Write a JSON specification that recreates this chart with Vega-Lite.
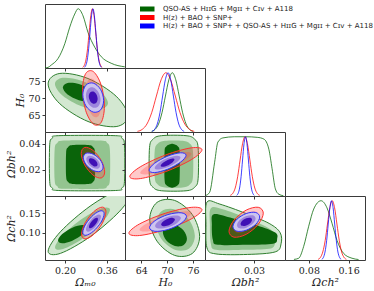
{
"$schema":"https://vega.github.io/schema/vega-lite/v6.json",
"padding":{"left":5,"top":3,"right":0,"bottom":0},
"columns":4,"spacing":0,"bounds":"flush",
"config":{
 "view":{"stroke":"#3a3a3a","strokeWidth":1},
 "axis":{"domain":false,"grid":false,"tickSize":3,"tickColor":"#3a3a3a","labelFont":"DejaVu Serif","labelFontSize":9.5,"labelColor":"#222","labelPadding":2,"titleFont":"DejaVu Serif","titleFontSize":11,"titleFontWeight":"normal","titleFontStyle":"italic","titleColor":"#222","titlePadding":2,"labelFlush":false,"labelOverlap":false}
},
"datasets":{
"p21":[
{"g":"a","x":0.441,"y":64.82},{"g":"a","x":0.396,"y":70.6},{"g":"a","x":0.288,"y":75.74},{"g":"a","x":0.180,"y":77.22},{"g":"a","x":0.135,"y":74.18},{"g":"a","x":0.180,"y":68.4},{"g":"a","x":0.288,"y":63.26},{"g":"a","x":0.396,"y":61.78},
{"g":"b","x":0.3647,"y":68.64},{"g":"b","x":0.3349,"y":72.05},{"g":"b","x":0.263,"y":75.08},{"g":"b","x":0.1911,"y":75.95},{"g":"b","x":0.1613,"y":74.16},{"g":"b","x":0.1911,"y":70.75},{"g":"b","x":0.263,"y":67.72},{"g":"b","x":0.3349,"y":66.85},
{"g":"c","x":0.3144,"y":70.45},{"g":"c","x":0.2964,"y":72.5},{"g":"c","x":0.253,"y":74.14},{"g":"c","x":0.2096,"y":74.41},{"g":"c","x":0.1916,"y":73.15},{"g":"c","x":0.2096,"y":71.1},{"g":"c","x":0.253,"y":69.46},{"g":"c","x":0.2964,"y":69.19},
{"g":"d","x":0.351,"y":67.7},{"g":"d","x":0.3387,"y":73.8},{"g":"d","x":0.309,"y":77.73},{"g":"d","x":0.2793,"y":77.2},{"g":"d","x":0.267,"y":72.5},{"g":"d","x":0.2793,"y":66.4},{"g":"d","x":0.309,"y":62.47},{"g":"d","x":0.3387,"y":63.0},
{"g":"e","x":0.3388,"y":68.4},{"g":"e","x":0.3301,"y":72.72},{"g":"e","x":0.309,"y":75.52},{"g":"e","x":0.2879,"y":75.14},{"g":"e","x":0.2792,"y":71.8},{"g":"e","x":0.2879,"y":67.48},{"g":"e","x":0.309,"y":64.68},{"g":"e","x":0.3301,"y":65.06},
{"g":"f","x":0.3275,"y":69.04},{"g":"f","x":0.3221,"y":71.73},{"g":"f","x":0.309,"y":73.46},{"g":"f","x":0.2959,"y":73.22},{"g":"f","x":0.2905,"y":71.16},{"g":"f","x":0.2959,"y":68.47},{"g":"f","x":0.309,"y":66.74},{"g":"f","x":0.3221,"y":66.98},
{"g":"g","x":0.348,"y":69.34},{"g":"g","x":0.3363,"y":72.57},{"g":"g","x":0.308,"y":74.41},{"g":"g","x":0.2797,"y":73.79},{"g":"g","x":0.268,"y":71.06},{"g":"g","x":0.2797,"y":67.83},{"g":"g","x":0.308,"y":65.99},{"g":"g","x":0.3363,"y":66.61},
{"g":"h","x":0.336,"y":69.6},{"g":"h","x":0.3278,"y":71.85},{"g":"h","x":0.308,"y":73.14},{"g":"h","x":0.2882,"y":72.7},{"g":"h","x":0.28,"y":70.8},{"g":"h","x":0.2882,"y":68.55},{"g":"h","x":0.308,"y":67.26},{"g":"h","x":0.3278,"y":67.7},
{"g":"i","x":0.325,"y":69.84},{"g":"i","x":0.32,"y":71.19},{"g":"i","x":0.308,"y":71.96},{"g":"i","x":0.296,"y":71.7},{"g":"i","x":0.291,"y":70.56},{"g":"i","x":0.296,"y":69.21},{"g":"i","x":0.308,"y":68.44},{"g":"i","x":0.32,"y":68.7}
],
"p31":[
{"g":"a","x":0.428,"y":0.0392},{"g":"a","x":0.4178,"y":0.0442},{"g":"a","x":0.393,"y":0.0462},{"g":"a","x":0.176,"y":0.0462},{"g":"a","x":0.1512,"y":0.0442},{"g":"a","x":0.141,"y":0.0392},{"g":"a","x":0.141,"y":0.0112},{"g":"a","x":0.1512,"y":0.0062},{"g":"a","x":0.176,"y":0.0042},{"g":"a","x":0.393,"y":0.0042},{"g":"a","x":0.4178,"y":0.0062},{"g":"a","x":0.428,"y":0.0112},
{"g":"b","x":0.372,"y":0.0355},{"g":"b","x":0.3618,"y":0.0405},{"g":"b","x":0.337,"y":0.0425},{"g":"b","x":0.195,"y":0.0425},{"g":"b","x":0.1702,"y":0.0405},{"g":"b","x":0.16,"y":0.0355},{"g":"b","x":0.16,"y":0.0125},{"g":"b","x":0.1702,"y":0.0075},{"g":"b","x":0.195,"y":0.0055},{"g":"b","x":0.337,"y":0.0055},{"g":"b","x":0.3618,"y":0.0075},{"g":"b","x":0.372,"y":0.0125},
{"g":"c","x":0.315,"y":0.033},{"g":"c","x":0.3078,"y":0.0373},{"g":"c","x":0.29,"y":0.039},{"g":"c","x":0.229,"y":0.039},{"g":"c","x":0.2113,"y":0.0373},{"g":"c","x":0.204,"y":0.033},{"g":"c","x":0.204,"y":0.0152},{"g":"c","x":0.2113,"y":0.0109},{"g":"c","x":0.229,"y":0.0092},{"g":"c","x":0.29,"y":0.0092},{"g":"c","x":0.3078,"y":0.0109},{"g":"c","x":0.315,"y":0.0152},
{"g":"d","x":0.352,"y":0.01842},{"g":"d","x":0.3388,"y":0.02716},{"g":"d","x":0.307,"y":0.03494},{"g":"d","x":0.2752,"y":0.03718},{"g":"d","x":0.262,"y":0.03258},{"g":"d","x":0.2752,"y":0.02384},{"g":"d","x":0.307,"y":0.01606},{"g":"d","x":0.3388,"y":0.01382},
{"g":"e","x":0.339,"y":0.02047},{"g":"e","x":0.3296,"y":0.02668},{"g":"e","x":0.307,"y":0.0322},{"g":"e","x":0.2844,"y":0.0338},{"g":"e","x":0.275,"y":0.03053},{"g":"e","x":0.2844,"y":0.02432},{"g":"e","x":0.307,"y":0.0188},{"g":"e","x":0.3296,"y":0.0172},
{"g":"f","x":0.3268,"y":0.02238},{"g":"f","x":0.321,"y":0.02623},{"g":"f","x":0.307,"y":0.02966},{"g":"f","x":0.293,"y":0.03065},{"g":"f","x":0.2872,"y":0.02862},{"g":"f","x":0.293,"y":0.02477},{"g":"f","x":0.307,"y":0.02134},{"g":"f","x":0.321,"y":0.02035},
{"g":"g","x":0.346,"y":0.0222},{"g":"g","x":0.3349,"y":0.02766},{"g":"g","x":0.308,"y":0.03204},{"g":"g","x":0.2811,"y":0.03276},{"g":"g","x":0.27,"y":0.0294},{"g":"g","x":0.2811,"y":0.02394},{"g":"g","x":0.308,"y":0.01956},{"g":"g","x":0.3349,"y":0.01884},
{"g":"h","x":0.3346,"y":0.02328},{"g":"h","x":0.3268,"y":0.0271},{"g":"h","x":0.308,"y":0.03016},{"g":"h","x":0.2892,"y":0.03067},{"g":"h","x":0.2814,"y":0.02832},{"g":"h","x":0.2892,"y":0.0245},{"g":"h","x":0.308,"y":0.02144},{"g":"h","x":0.3268,"y":0.02093},
{"g":"i","x":0.3247,"y":0.02421},{"g":"i","x":0.3198,"y":0.02662},{"g":"i","x":0.308,"y":0.02855},{"g":"i","x":0.2962,"y":0.02886},{"g":"i","x":0.2913,"y":0.02739},{"g":"i","x":0.2962,"y":0.02498},{"g":"i","x":0.308,"y":0.02305},{"g":"i","x":0.3198,"y":0.02274}
],
"p41":[
{"g":"a","x":0.457,"y":0.204},{"g":"a","x":0.4098,"y":0.2093},{"g":"a","x":0.296,"y":0.1674},{"g":"a","x":0.1822,"y":0.1031},{"g":"a","x":0.135,"y":0.054},{"g":"a","x":0.1822,"y":0.0487},{"g":"a","x":0.296,"y":0.0906},{"g":"a","x":0.4098,"y":0.1549},
{"g":"b","x":0.3725,"y":0.1583},{"g":"b","x":0.3416,"y":0.1624},{"g":"b","x":0.267,"y":0.1365},{"g":"b","x":0.1924,"y":0.0956},{"g":"b","x":0.1615,"y":0.0637},{"g":"b","x":0.1924,"y":0.0596},{"g":"b","x":0.267,"y":0.0855},{"g":"b","x":0.3416,"y":0.1264},
{"g":"c","x":0.283,"y":0.1131},{"g":"c","x":0.2669,"y":0.12},{"g":"c","x":0.228,"y":0.1134},{"g":"c","x":0.1891,"y":0.0972},{"g":"c","x":0.173,"y":0.0809},{"g":"c","x":0.1891,"y":0.074},{"g":"c","x":0.228,"y":0.0806},{"g":"c","x":0.2669,"y":0.0968},
{"g":"d","x":0.357,"y":0.153},{"g":"d","x":0.3432,"y":0.165},{"g":"d","x":0.31,"y":0.1536},{"g":"d","x":0.2768,"y":0.1254},{"g":"d","x":0.263,"y":0.097},{"g":"d","x":0.2768,"y":0.085},{"g":"d","x":0.31,"y":0.0964},{"g":"d","x":0.3432,"y":0.1246},
{"g":"e","x":0.3434,"y":0.1449},{"g":"e","x":0.3336,"y":0.1534},{"g":"e","x":0.31,"y":0.1453},{"g":"e","x":0.2864,"y":0.1253},{"g":"e","x":0.2766,"y":0.1051},{"g":"e","x":0.2864,"y":0.0966},{"g":"e","x":0.31,"y":0.1047},{"g":"e","x":0.3336,"y":0.1247},
{"g":"f","x":0.3307,"y":0.1373},{"g":"f","x":0.3246,"y":0.1426},{"g":"f","x":0.31,"y":0.1376},{"g":"f","x":0.2954,"y":0.1252},{"g":"f","x":0.2893,"y":0.1127},{"g":"f","x":0.2954,"y":0.1074},{"g":"f","x":0.31,"y":0.1124},{"g":"f","x":0.3246,"y":0.1248},
{"g":"g","x":0.35,"y":0.1483},{"g":"g","x":0.338,"y":0.1559},{"g":"g","x":0.309,"y":0.1455},{"g":"g","x":0.28,"y":0.123},{"g":"g","x":0.268,"y":0.1017},{"g":"g","x":0.28,"y":0.0941},{"g":"g","x":0.309,"y":0.1045},{"g":"g","x":0.338,"y":0.127},
{"g":"h","x":0.3377,"y":0.1413},{"g":"h","x":0.3293,"y":0.1467},{"g":"h","x":0.309,"y":0.1393},{"g":"h","x":0.2887,"y":0.1236},{"g":"h","x":0.2803,"y":0.1087},{"g":"h","x":0.2887,"y":0.1033},{"g":"h","x":0.309,"y":0.1107},{"g":"h","x":0.3293,"y":0.1264},
{"g":"i","x":0.3262,"y":0.1348},{"g":"i","x":0.3212,"y":0.138},{"g":"i","x":0.309,"y":0.1336},{"g":"i","x":0.2968,"y":0.1242},{"g":"i","x":0.2918,"y":0.1152},{"g":"i","x":0.2968,"y":0.112},{"g":"i","x":0.309,"y":0.1164},{"g":"i","x":0.3212,"y":0.1258}
],
"p32":[
{"g":"a","x":77.2,"y":0.037},{"g":"a","x":76.39,"y":0.0435},{"g":"a","x":74.4,"y":0.0462},{"g":"a","x":68.7,"y":0.0462},{"g":"a","x":66.71,"y":0.0435},{"g":"a","x":65.9,"y":0.037},{"g":"a","x":65.9,"y":0.0132},{"g":"a","x":66.71,"y":0.0067},{"g":"a","x":68.7,"y":0.004},{"g":"a","x":74.4,"y":0.004},{"g":"a","x":76.39,"y":0.0067},{"g":"a","x":77.2,"y":0.0132},
{"g":"b","x":76.0,"y":0.0343},{"g":"b","x":75.3,"y":0.04},{"g":"b","x":73.6,"y":0.0423},{"g":"b","x":69.5,"y":0.0423},{"g":"b","x":67.8,"y":0.04},{"g":"b","x":67.1,"y":0.0343},{"g":"b","x":67.1,"y":0.0146},{"g":"b","x":67.8,"y":0.0089},{"g":"b","x":69.5,"y":0.0066},{"g":"b","x":73.6,"y":0.0066},{"g":"b","x":75.3,"y":0.0089},{"g":"b","x":76.0,"y":0.0146},
{"g":"c","x":72.9,"y":0.0338},{"g":"c","x":72.465,"y":0.0381},{"g":"c","x":71.4,"y":0.0398},{"g":"c","x":70.9,"y":0.0398},{"g":"c","x":69.835,"y":0.0381},{"g":"c","x":69.4,"y":0.0338},{"g":"c","x":69.4,"y":0.0126},{"g":"c","x":69.835,"y":0.0083},{"g":"c","x":70.9,"y":0.0066},{"g":"c","x":71.4,"y":0.0066},{"g":"c","x":72.465,"y":0.0083},{"g":"c","x":72.9,"y":0.0126},
{"g":"d","x":78.1,"y":0.03539},{"g":"d","x":75.64,"y":0.03687},{"g":"d","x":69.7,"y":0.03148},{"g":"d","x":63.76,"y":0.02234},{"g":"d","x":61.3,"y":0.01481},{"g":"d","x":63.76,"y":0.01333},{"g":"d","x":69.7,"y":0.01872},{"g":"d","x":75.64,"y":0.02786},
{"g":"e","x":75.66,"y":0.03241},{"g":"e","x":73.91,"y":0.03347},{"g":"e","x":69.7,"y":0.02963},{"g":"e","x":65.49,"y":0.02314},{"g":"e","x":63.74,"y":0.01779},{"g":"e","x":65.49,"y":0.01673},{"g":"e","x":69.7,"y":0.02057},{"g":"e","x":73.91,"y":0.02706},
{"g":"f","x":73.4,"y":0.0296},{"g":"f","x":72.32,"y":0.03026},{"g":"f","x":69.7,"y":0.02789},{"g":"f","x":67.08,"y":0.02389},{"g":"f","x":66.0,"y":0.0206},{"g":"f","x":67.08,"y":0.01994},{"g":"f","x":69.7,"y":0.02231},{"g":"f","x":72.32,"y":0.02631},
{"g":"g","x":74.4,"y":0.0312},{"g":"g","x":73.14,"y":0.03308},{"g":"g","x":70.1,"y":0.03052},{"g":"g","x":67.06,"y":0.02502},{"g":"g","x":65.8,"y":0.0198},{"g":"g","x":67.06,"y":0.01792},{"g":"g","x":70.1,"y":0.02048},{"g":"g","x":73.14,"y":0.02598},
{"g":"h","x":73.1,"y":0.02948},{"g":"h","x":72.22,"y":0.03079},{"g":"h","x":70.1,"y":0.029},{"g":"h","x":67.98,"y":0.02517},{"g":"h","x":67.1,"y":0.02152},{"g":"h","x":67.98,"y":0.02021},{"g":"h","x":70.1,"y":0.022},{"g":"h","x":72.22,"y":0.02583},
{"g":"i","x":71.7,"y":0.0279},{"g":"i","x":71.23,"y":0.02869},{"g":"i","x":70.1,"y":0.02762},{"g":"i","x":68.97,"y":0.0253},{"g":"i","x":68.5,"y":0.0231},{"g":"i","x":68.97,"y":0.02231},{"g":"i","x":70.1,"y":0.02338},{"g":"i","x":71.23,"y":0.0257}
],
"p42":[
{"g":"a","x":77.55,"y":0.091},{"g":"a","x":75.85,"y":0.1461},{"g":"a","x":71.75,"y":0.1818},{"g":"a","x":67.65,"y":0.1769},{"g":"a","x":65.95,"y":0.1344},{"g":"a","x":67.65,"y":0.0793},{"g":"a","x":71.75,"y":0.0436},{"g":"a","x":75.85,"y":0.0485},
{"g":"b","x":76.44,"y":0.0921},{"g":"b","x":75.12,"y":0.1325},{"g":"b","x":71.94,"y":0.1586},{"g":"b","x":68.76,"y":0.155},{"g":"b","x":67.44,"y":0.1239},{"g":"b","x":68.76,"y":0.0835},{"g":"b","x":71.94,"y":0.0574},{"g":"b","x":75.12,"y":0.061},
{"g":"c","x":74.6,"y":0.0856},{"g":"c","x":73.78,"y":0.1069},{"g":"c","x":71.8,"y":0.1207},{"g":"c","x":69.82,"y":0.1188},{"g":"c","x":69.0,"y":0.1024},{"g":"c","x":69.82,"y":0.0811},{"g":"c","x":71.8,"y":0.0673},{"g":"c","x":73.78,"y":0.0692},
{"g":"d","x":78.1,"y":0.1585},{"g":"d","x":75.61,"y":0.1644},{"g":"d","x":69.6,"y":0.1496},{"g":"d","x":63.59,"y":0.1227},{"g":"d","x":61.1,"y":0.0995},{"g":"d","x":63.59,"y":0.0936},{"g":"d","x":69.6,"y":0.1084},{"g":"d","x":75.61,"y":0.1353},
{"g":"e","x":75.63,"y":0.15},{"g":"e","x":73.86,"y":0.1542},{"g":"e","x":69.6,"y":0.1436},{"g":"e","x":65.34,"y":0.1245},{"g":"e","x":63.57,"y":0.108},{"g":"e","x":65.34,"y":0.1038},{"g":"e","x":69.6,"y":0.1144},{"g":"e","x":73.86,"y":0.1335},
{"g":"f","x":73.34,"y":0.142},{"g":"f","x":72.24,"y":0.1445},{"g":"f","x":69.6,"y":0.138},{"g":"f","x":66.96,"y":0.1262},{"g":"f","x":65.86,"y":0.116},{"g":"f","x":66.96,"y":0.1135},{"g":"f","x":69.6,"y":0.12},{"g":"f","x":72.24,"y":0.1318},
{"g":"g","x":74.5,"y":0.1416},{"g":"g","x":73.24,"y":0.1508},{"g":"g","x":70.2,"y":0.1463},{"g":"g","x":67.16,"y":0.1308},{"g":"g","x":65.9,"y":0.1134},{"g":"g","x":67.16,"y":0.1042},{"g":"g","x":70.2,"y":0.1087},{"g":"g","x":73.24,"y":0.1242},
{"g":"h","x":73.2,"y":0.1374},{"g":"h","x":72.32,"y":0.1438},{"g":"h","x":70.2,"y":0.1407},{"g":"h","x":68.08,"y":0.1298},{"g":"h","x":67.2,"y":0.1176},{"g":"h","x":68.08,"y":0.1112},{"g":"h","x":70.2,"y":0.1143},{"g":"h","x":72.32,"y":0.1252},
{"g":"i","x":71.8,"y":0.1338},{"g":"i","x":71.33,"y":0.1379},{"g":"i","x":70.2,"y":0.1359},{"g":"i","x":69.07,"y":0.129},{"g":"i","x":68.6,"y":0.1212},{"g":"i","x":69.07,"y":0.1171},{"g":"i","x":70.2,"y":0.1191},{"g":"i","x":71.33,"y":0.126}
],
"p43":[
{"g":"a","x":0.0012,"y":0.1777},{"g":"a","x":0.0091,"y":0.1726},{"g":"a","x":0.0248,"y":0.1495},{"g":"a","x":0.0393,"y":0.124},{"g":"a","x":0.046,"y":0.101},{"g":"a","x":0.0466,"y":0.0729},{"g":"a","x":0.043,"y":0.0524},{"g":"a","x":0.026,"y":0.046},{"g":"a","x":0.0067,"y":0.0473},{"g":"a","x":0.0012,"y":0.0626},{"g":"a","x":0.0006,"y":0.1214},
{"g":"b","x":0.0036,"y":0.1623},{"g":"b","x":0.0109,"y":0.1598},{"g":"b","x":0.026,"y":0.1368},{"g":"b","x":0.0393,"y":0.1112},{"g":"b","x":0.0429,"y":0.0933},{"g":"b","x":0.0429,"y":0.0729},{"g":"b","x":0.0393,"y":0.0601},{"g":"b","x":0.023,"y":0.0575},{"g":"b","x":0.0067,"y":0.0575},{"g":"b","x":0.0036,"y":0.0729},{"g":"b","x":0.003,"y":0.1214},
{"g":"c","x":0.0054,"y":0.147},{"g":"c","x":0.0169,"y":0.1368},{"g":"c","x":0.0321,"y":0.1189},{"g":"c","x":0.043,"y":0.101},{"g":"c","x":0.0442,"y":0.0856},{"g":"c","x":0.0417,"y":0.0729},{"g":"c","x":0.026,"y":0.0703},{"g":"c","x":0.0079,"y":0.0703},{"g":"c","x":0.0048,"y":0.083},{"g":"c","x":0.0042,"y":0.1214},
{"g":"d","x":0.0357,"y":0.1498},{"g":"d","x":0.03262,"y":0.1646},{"g":"d","x":0.0252,"y":0.1574},{"g":"d","x":0.01778,"y":0.1324},{"g":"d","x":0.0147,"y":0.1042},{"g":"d","x":0.01778,"y":0.0894},{"g":"d","x":0.0252,"y":0.0966},{"g":"d","x":0.03262,"y":0.1216},
{"g":"e","x":0.03266,"y":0.1432},{"g":"e","x":0.03047,"y":0.1537},{"g":"e","x":0.0252,"y":0.1486},{"g":"e","x":0.01993,"y":0.1308},{"g":"e","x":0.01774,"y":0.1108},{"g":"e","x":0.01993,"y":0.1003},{"g":"e","x":0.0252,"y":0.1054},{"g":"e","x":0.03047,"y":0.1232},
{"g":"f","x":0.02982,"y":0.137},{"g":"f","x":0.02847,"y":0.1435},{"g":"f","x":0.0252,"y":0.1404},{"g":"f","x":0.02193,"y":0.1294},{"g":"f","x":0.02058,"y":0.117},{"g":"f","x":0.02193,"y":0.1105},{"g":"f","x":0.0252,"y":0.1136},{"g":"f","x":0.02847,"y":0.1246},
{"g":"g","x":0.0335,"y":0.1402},{"g":"g","x":0.0311,"y":0.1515},{"g":"g","x":0.0253,"y":0.149},{"g":"g","x":0.0195,"y":0.1343},{"g":"g","x":0.0171,"y":0.1159},{"g":"g","x":0.0195,"y":0.1045},{"g":"g","x":0.0253,"y":0.107},{"g":"g","x":0.0311,"y":0.1217},
{"g":"h","x":0.031,"y":0.1365},{"g":"h","x":0.0293,"y":0.1444},{"g":"h","x":0.0253,"y":0.1427},{"g":"h","x":0.0213,"y":0.1324},{"g":"h","x":0.0196,"y":0.1195},{"g":"h","x":0.0213,"y":0.1116},{"g":"h","x":0.0253,"y":0.1133},{"g":"h","x":0.0293,"y":0.1236},
{"g":"i","x":0.0288,"y":0.1333},{"g":"i","x":0.0278,"y":0.1381},{"g":"i","x":0.0253,"y":0.1371},{"g":"i","x":0.0228,"y":0.1307},{"g":"i","x":0.0218,"y":0.1227},{"g":"i","x":0.0228,"y":0.1179},{"g":"i","x":0.0253,"y":0.1189},{"g":"i","x":0.0278,"y":0.1253}
],
"d1":[
{"s":"A","x":0.123,"y":0.003},{"s":"A","x":0.1345,"y":0.01},{"s":"A","x":0.147,"y":0.05},{"s":"A","x":0.173,"y":0.16},{"s":"A","x":0.199,"y":0.41},{"s":"A","x":0.218,"y":0.69},{"s":"A","x":0.237,"y":0.91},{"s":"A","x":0.25,"y":1},{"s":"A","x":0.269,"y":0.88},{"s":"A","x":0.288,"y":0.6},{"s":"A","x":0.314,"y":0.35},{"s":"A","x":0.339,"y":0.19},{"s":"A","x":0.377,"y":0.08},{"s":"A","x":0.429,"y":0.02},
{"s":"B","x":0.2675,"y":0.011},{"s":"B","x":0.2738,"y":0.044},{"s":"B","x":0.28,"y":0.135},{"s":"B","x":0.2863,"y":0.325},{"s":"B","x":0.2925,"y":0.607},{"s":"B","x":0.2988,"y":0.882},{"s":"B","x":0.305,"y":1},{"s":"B","x":0.3113,"y":0.882},{"s":"B","x":0.3175,"y":0.607},{"s":"B","x":0.3238,"y":0.325},{"s":"B","x":0.33,"y":0.135},{"s":"B","x":0.3363,"y":0.044},{"s":"B","x":0.3425,"y":0.011},
{"s":"C","x":0.274,"y":0.011},{"s":"C","x":0.2795,"y":0.044},{"s":"C","x":0.285,"y":0.135},{"s":"C","x":0.2905,"y":0.325},{"s":"C","x":0.296,"y":0.607},{"s":"C","x":0.3015,"y":0.882},{"s":"C","x":0.307,"y":1},{"s":"C","x":0.3125,"y":0.882},{"s":"C","x":0.318,"y":0.607},{"s":"C","x":0.3235,"y":0.325},{"s":"C","x":0.329,"y":0.135},{"s":"C","x":0.3345,"y":0.044},{"s":"C","x":0.34,"y":0.011}
],
"d2":[
{"s":"A","x":66.4,"y":0.011},{"s":"A","x":67.2,"y":0.044},{"s":"A","x":68.0,"y":0.135},{"s":"A","x":68.8,"y":0.325},{"s":"A","x":69.6,"y":0.607},{"s":"A","x":70.4,"y":0.882},{"s":"A","x":71.2,"y":1},{"s":"A","x":72.0,"y":0.882},{"s":"A","x":72.8,"y":0.607},{"s":"A","x":73.6,"y":0.325},{"s":"A","x":74.4,"y":0.135},{"s":"A","x":75.2,"y":0.044},{"s":"A","x":76.0,"y":0.011},
{"s":"B","x":63.1,"y":0.011},{"s":"B","x":64.2,"y":0.044},{"s":"B","x":65.3,"y":0.135},{"s":"B","x":66.4,"y":0.325},{"s":"B","x":67.5,"y":0.607},{"s":"B","x":68.6,"y":0.882},{"s":"B","x":69.7,"y":1},{"s":"B","x":70.8,"y":0.882},{"s":"B","x":71.9,"y":0.607},{"s":"B","x":73.0,"y":0.325},{"s":"B","x":74.1,"y":0.135},{"s":"B","x":75.2,"y":0.044},{"s":"B","x":76.3,"y":0.011},
{"s":"C","x":66.45,"y":0.011},{"s":"C","x":67.08,"y":0.044},{"s":"C","x":67.7,"y":0.135},{"s":"C","x":68.33,"y":0.325},{"s":"C","x":68.95,"y":0.607},{"s":"C","x":69.58,"y":0.882},{"s":"C","x":70.2,"y":1},{"s":"C","x":70.83,"y":0.882},{"s":"C","x":71.45,"y":0.607},{"s":"C","x":72.08,"y":0.325},{"s":"C","x":72.7,"y":0.135},{"s":"C","x":73.33,"y":0.044},{"s":"C","x":73.95,"y":0.011}
],
"d3":[
{"s":"A","x":0.0005,"y":0.01},{"s":"A","x":0.0028,"y":0.06},{"s":"A","x":0.0059,"y":0.57},{"s":"A","x":0.0079,"y":0.91},{"s":"A","x":0.0109,"y":0.98},{"s":"A","x":0.018,"y":1.0},{"s":"A","x":0.025,"y":1.0},{"s":"A","x":0.032,"y":0.99},{"s":"A","x":0.0361,"y":0.96},{"s":"A","x":0.0391,"y":0.79},{"s":"A","x":0.0411,"y":0.46},{"s":"A","x":0.0431,"y":0.12},{"s":"A","x":0.0452,"y":0.03},{"s":"A","x":0.048,"y":0.005},
{"s":"B","x":0.0155,"y":0.011},{"s":"B","x":0.017,"y":0.044},{"s":"B","x":0.0185,"y":0.135},{"s":"B","x":0.02,"y":0.325},{"s":"B","x":0.0215,"y":0.607},{"s":"B","x":0.023,"y":0.882},{"s":"B","x":0.0245,"y":1},{"s":"B","x":0.026,"y":0.882},{"s":"B","x":0.0275,"y":0.607},{"s":"B","x":0.029,"y":0.325},{"s":"B","x":0.0305,"y":0.135},{"s":"B","x":0.032,"y":0.044},{"s":"B","x":0.0335,"y":0.011},
{"s":"C","x":0.0194,"y":0.011},{"s":"C","x":0.0203,"y":0.044},{"s":"C","x":0.0212,"y":0.135},{"s":"C","x":0.0221,"y":0.325},{"s":"C","x":0.023,"y":0.607},{"s":"C","x":0.0239,"y":0.882},{"s":"C","x":0.0248,"y":1},{"s":"C","x":0.0257,"y":0.882},{"s":"C","x":0.0266,"y":0.607},{"s":"C","x":0.0275,"y":0.325},{"s":"C","x":0.0284,"y":0.135},{"s":"C","x":0.0293,"y":0.044},{"s":"C","x":0.0302,"y":0.011}
],
"d4":[
{"s":"A","x":0.05,"y":0.01},{"s":"A","x":0.0596,"y":0.03},{"s":"A","x":0.0696,"y":0.23},{"s":"A","x":0.0797,"y":0.57},{"s":"A","x":0.0898,"y":0.86},{"s":"A","x":0.1045,"y":1.0},{"s":"A","x":0.1165,"y":0.88},{"s":"A","x":0.1266,"y":0.62},{"s":"A","x":0.1367,"y":0.33},{"s":"A","x":0.1501,"y":0.11},{"s":"A","x":0.1668,"y":0.03},{"s":"A","x":0.18,"y":0.008},
{"s":"B","x":0.0985,"y":0.011},{"s":"B","x":0.1033,"y":0.044},{"s":"B","x":0.108,"y":0.135},{"s":"B","x":0.1128,"y":0.325},{"s":"B","x":0.1175,"y":0.607},{"s":"B","x":0.1223,"y":0.882},{"s":"B","x":0.127,"y":1},{"s":"B","x":0.1318,"y":0.882},{"s":"B","x":0.1365,"y":0.607},{"s":"B","x":0.1413,"y":0.325},{"s":"B","x":0.146,"y":0.135},{"s":"B","x":0.1508,"y":0.044},{"s":"B","x":0.1555,"y":0.011},
{"s":"C","x":0.106,"y":0.011},{"s":"C","x":0.1093,"y":0.044},{"s":"C","x":0.1125,"y":0.135},{"s":"C","x":0.1158,"y":0.325},{"s":"C","x":0.119,"y":0.607},{"s":"C","x":0.1223,"y":0.882},{"s":"C","x":0.1255,"y":1},{"s":"C","x":0.1288,"y":0.882},{"s":"C","x":0.132,"y":0.607},{"s":"C","x":0.1353,"y":0.325},{"s":"C","x":0.1385,"y":0.135},{"s":"C","x":0.1418,"y":0.044},{"s":"C","x":0.145,"y":0.011}
]
},
"concat":[
{"width":80,"height":64,"data":{"name":"d1"},"mark":{"type":"line","interpolate":"monotone","strokeWidth":1,"opacity":0.75,"clip":true},
 "encoding":{"x":{"field":"x","type":"quantitative","scale":{"domain":[0.123,0.43],"nice":false,"zero":false},"axis":{"values":[0.2,0.36],"labels":false,"title":null}},
 "y":{"field":"y","type":"quantitative","scale":{"domain":[0,1.08]},"axis":null},
 "color":{"field":"s","type":"nominal","scale":{"domain":["A","B","C"],"range":["#006400","#ff0000","#0000ff"]},"legend":{"title":null,"orient":"none","legendX":95,"legendY":1,"symbolType":"M-2,0H2","symbolSize":64,"symbolStrokeWidth":5,"symbolOpacity":1,"labelFont":"DejaVu Sans","labelFontSize":7,"labelColor":"#222","labelOffset":10,"labelLimit":400,"rowPadding":0.5,"clipHeight":8,"padding":0,"labelExpr":"datum.label=='A' ? 'QSO-AS + HɪɪG + Mgɪɪ + Cɪᴠ + A118' : datum.label=='B' ? 'H(z) + BAO + SNP+' : 'H(z) + BAO + SNP+ + QSO-AS + HɪɪG + Mgɪɪ + Cɪᴠ + A118'"}}}},
{"width":80,"height":64,"view":{"stroke":null},"data":{"values":[{}]},"mark":{"type":"point","opacity":0},"encoding":{}},
{"width":80,"height":64,"view":{"stroke":null},"data":{"values":[{}]},"mark":{"type":"point","opacity":0},"encoding":{}},
{"width":80,"height":64,"view":{"stroke":null},"data":{"values":[{}]},"mark":{"type":"point","opacity":0},"encoding":{}},

{"width":80,"height":64,"data":{"name":"p21"},"mark":{"type":"line","interpolate":"cardinal-closed","clip":true,"strokeWidth":1},
 "encoding":{"x":{"field":"x","type":"quantitative","scale":{"domain":[0.123,0.43],"nice":false,"zero":false},"axis":{"values":[0.2,0.36],"labels":false,"title":null}},
 "y":{"field":"y","type":"quantitative","scale":{"domain":[60.2,78.8],"nice":false,"zero":false},"axis":{"values":[65,70,75],"title":"H₀"}},
 "order":{"value":null},"detail":{"field":"g"},
 "fill":{"field":"g","type":"nominal","scale":{"domain":["a","b","c","d","e","f","g","h","i"],"range":["#d3e8d1","#93c490","#0a640a","rgba(255,60,60,0.28)","rgba(255,60,60,0.28)","rgba(255,60,60,0.28)","#ccc4ef","#9c85dd","#3f10b5"]},"legend":null},
 "stroke":{"field":"g","type":"nominal","scale":{"domain":["a","b","c","d","e","f","g","h","i"],"range":["#2f7f2f","transparent","transparent","#ff3030","transparent","transparent","#3030ff","transparent","transparent"]},"legend":null}}},
{"width":80,"height":64,"data":{"name":"d2"},"mark":{"type":"line","interpolate":"monotone","strokeWidth":1,"opacity":0.75,"clip":true},
 "encoding":{"x":{"field":"x","type":"quantitative","scale":{"domain":[60.2,78.8],"nice":false,"zero":false},"axis":{"values":[64,70,76],"labels":false,"title":null}},
 "y":{"field":"y","type":"quantitative","scale":{"domain":[0,1.08]},"axis":null},
 "color":{"field":"s","type":"nominal","scale":{"domain":["A","B","C"],"range":["#006400","#ff0000","#0000ff"]},"legend":{"title":null,"orient":"none","legendX":95,"legendY":1,"symbolType":"M-2,0H2","symbolSize":64,"symbolStrokeWidth":5,"symbolOpacity":1,"labelFont":"DejaVu Sans","labelFontSize":7,"labelColor":"#222","labelOffset":10,"labelLimit":400,"rowPadding":0.5,"clipHeight":8,"padding":0,"labelExpr":"datum.label=='A' ? 'QSO-AS + HɪɪG + Mgɪɪ + Cɪᴠ + A118' : datum.label=='B' ? 'H(z) + BAO + SNP+' : 'H(z) + BAO + SNP+ + QSO-AS + HɪɪG + Mgɪɪ + Cɪᴠ + A118'"}}}},
{"width":80,"height":64,"view":{"stroke":null},"data":{"values":[{}]},"mark":{"type":"point","opacity":0},"encoding":{}},
{"width":80,"height":64,"view":{"stroke":null},"data":{"values":[{}]},"mark":{"type":"point","opacity":0},"encoding":{}},

{"width":80,"height":64,"data":{"name":"p31"},"mark":{"type":"line","interpolate":"cardinal-closed","clip":true,"strokeWidth":1},
 "encoding":{"x":{"field":"x","type":"quantitative","scale":{"domain":[0.123,0.43],"nice":false,"zero":false},"axis":{"values":[0.2,0.36],"labels":false,"title":null}},
 "y":{"field":"y","type":"quantitative","scale":{"domain":[0,0.049],"nice":false,"zero":false},"axis":{"values":[0.02,0.04],"format":".2f","title":"Ωbh²"}},
 "order":{"value":null},"detail":{"field":"g"},
 "fill":{"field":"g","type":"nominal","scale":{"domain":["a","b","c","d","e","f","g","h","i"],"range":["#d3e8d1","#93c490","#0a640a","rgba(255,60,60,0.28)","rgba(255,60,60,0.28)","rgba(255,60,60,0.28)","#ccc4ef","#9c85dd","#3f10b5"]},"legend":null},
 "stroke":{"field":"g","type":"nominal","scale":{"domain":["a","b","c","d","e","f","g","h","i"],"range":["#2f7f2f","transparent","transparent","#ff3030","transparent","transparent","#3030ff","transparent","transparent"]},"legend":null}}},
{"width":80,"height":64,"data":{"name":"p32"},"mark":{"type":"line","interpolate":"cardinal-closed","clip":true,"strokeWidth":1},
 "encoding":{"x":{"field":"x","type":"quantitative","scale":{"domain":[60.2,78.8],"nice":false,"zero":false},"axis":{"values":[64,70,76],"labels":false,"title":null}},
 "y":{"field":"y","type":"quantitative","scale":{"domain":[0,0.049],"nice":false,"zero":false},"axis":{"values":[0.02,0.04],"labels":false,"title":null}},
 "order":{"value":null},"detail":{"field":"g"},
 "fill":{"field":"g","type":"nominal","scale":{"domain":["a","b","c","d","e","f","g","h","i"],"range":["#d3e8d1","#93c490","#0a640a","rgba(255,60,60,0.28)","rgba(255,60,60,0.28)","rgba(255,60,60,0.28)","#ccc4ef","#9c85dd","#3f10b5"]},"legend":null},
 "stroke":{"field":"g","type":"nominal","scale":{"domain":["a","b","c","d","e","f","g","h","i"],"range":["#2f7f2f","transparent","transparent","#ff3030","transparent","transparent","#3030ff","transparent","transparent"]},"legend":null}}},
{"width":80,"height":64,"data":{"name":"d3"},"mark":{"type":"line","interpolate":"monotone","strokeWidth":1,"opacity":0.75,"clip":true},
 "encoding":{"x":{"field":"x","type":"quantitative","scale":{"domain":[0,0.049],"nice":false,"zero":false},"axis":{"values":[0.03],"labels":false,"title":null}},
 "y":{"field":"y","type":"quantitative","scale":{"domain":[0,1.08]},"axis":null},
 "color":{"field":"s","type":"nominal","scale":{"domain":["A","B","C"],"range":["#006400","#ff0000","#0000ff"]},"legend":{"title":null,"orient":"none","legendX":95,"legendY":1,"symbolType":"M-2,0H2","symbolSize":64,"symbolStrokeWidth":5,"symbolOpacity":1,"labelFont":"DejaVu Sans","labelFontSize":7,"labelColor":"#222","labelOffset":10,"labelLimit":400,"rowPadding":0.5,"clipHeight":8,"padding":0,"labelExpr":"datum.label=='A' ? 'QSO-AS + HɪɪG + Mgɪɪ + Cɪᴠ + A118' : datum.label=='B' ? 'H(z) + BAO + SNP+' : 'H(z) + BAO + SNP+ + QSO-AS + HɪɪG + Mgɪɪ + Cɪᴠ + A118'"}}}},
{"width":80,"height":64,"view":{"stroke":null},"data":{"values":[{}]},"mark":{"type":"point","opacity":0},"encoding":{}},

{"width":80,"height":64,"data":{"name":"p41"},"mark":{"type":"line","interpolate":"cardinal-closed","clip":true,"strokeWidth":1},
 "encoding":{"x":{"field":"x","type":"quantitative","scale":{"domain":[0.123,0.43],"nice":false,"zero":false},"axis":{"values":[0.2,0.36],"format":".2f","title":"Ωₘ₀"}},
 "y":{"field":"y","type":"quantitative","scale":{"domain":[0.032,0.193],"nice":false,"zero":false},"axis":{"values":[0.1,0.15],"format":".2f","title":"Ωch²"}},
 "order":{"value":null},"detail":{"field":"g"},
 "fill":{"field":"g","type":"nominal","scale":{"domain":["a","b","c","d","e","f","g","h","i"],"range":["#d3e8d1","#93c490","#0a640a","rgba(255,60,60,0.28)","rgba(255,60,60,0.28)","rgba(255,60,60,0.28)","#ccc4ef","#9c85dd","#3f10b5"]},"legend":null},
 "stroke":{"field":"g","type":"nominal","scale":{"domain":["a","b","c","d","e","f","g","h","i"],"range":["#2f7f2f","transparent","transparent","#ff3030","transparent","transparent","#3030ff","transparent","transparent"]},"legend":null}}},
{"width":80,"height":64,"data":{"name":"p42"},"mark":{"type":"line","interpolate":"cardinal-closed","clip":true,"strokeWidth":1},
 "encoding":{"x":{"field":"x","type":"quantitative","scale":{"domain":[60.2,78.8],"nice":false,"zero":false},"axis":{"values":[64,70,76],"title":"H₀"}},
 "y":{"field":"y","type":"quantitative","scale":{"domain":[0.032,0.193],"nice":false,"zero":false},"axis":{"values":[0.1,0.15],"labels":false,"title":null}},
 "order":{"value":null},"detail":{"field":"g"},
 "fill":{"field":"g","type":"nominal","scale":{"domain":["a","b","c","d","e","f","g","h","i"],"range":["#d3e8d1","#93c490","#0a640a","rgba(255,60,60,0.28)","rgba(255,60,60,0.28)","rgba(255,60,60,0.28)","#ccc4ef","#9c85dd","#3f10b5"]},"legend":null},
 "stroke":{"field":"g","type":"nominal","scale":{"domain":["a","b","c","d","e","f","g","h","i"],"range":["#2f7f2f","transparent","transparent","#ff3030","transparent","transparent","#3030ff","transparent","transparent"]},"legend":null}}},
{"width":80,"height":64,"data":{"name":"p43"},"mark":{"type":"line","interpolate":"cardinal-closed","clip":true,"strokeWidth":1},
 "encoding":{"x":{"field":"x","type":"quantitative","scale":{"domain":[0,0.049],"nice":false,"zero":false},"axis":{"values":[0.03],"format":".2f","title":"Ωbh²"}},
 "y":{"field":"y","type":"quantitative","scale":{"domain":[0.032,0.193],"nice":false,"zero":false},"axis":{"values":[0.1,0.15],"labels":false,"title":null}},
 "order":{"value":null},"detail":{"field":"g"},
 "fill":{"field":"g","type":"nominal","scale":{"domain":["a","b","c","d","e","f","g","h","i"],"range":["#d3e8d1","#93c490","#0a640a","rgba(255,60,60,0.28)","rgba(255,60,60,0.28)","rgba(255,60,60,0.28)","#ccc4ef","#9c85dd","#3f10b5"]},"legend":null},
 "stroke":{"field":"g","type":"nominal","scale":{"domain":["a","b","c","d","e","f","g","h","i"],"range":["#2f7f2f","transparent","transparent","#ff3030","transparent","transparent","#3030ff","transparent","transparent"]},"legend":null}}},
{"width":80,"height":64,"data":{"name":"d4"},"mark":{"type":"line","interpolate":"monotone","strokeWidth":1,"opacity":0.75,"clip":true},
 "encoding":{"x":{"field":"x","type":"quantitative","scale":{"domain":[0.032,0.193],"nice":false,"zero":false},"axis":{"values":[0.08,0.16],"format":".2f","title":"Ωch²"}},
 "y":{"field":"y","type":"quantitative","scale":{"domain":[0,1.08]},"axis":null},
 "color":{"field":"s","type":"nominal","scale":{"domain":["A","B","C"],"range":["#006400","#ff0000","#0000ff"]},"legend":{"title":null,"orient":"none","legendX":95,"legendY":1,"symbolType":"M-2,0H2","symbolSize":64,"symbolStrokeWidth":5,"symbolOpacity":1,"labelFont":"DejaVu Sans","labelFontSize":7,"labelColor":"#222","labelOffset":10,"labelLimit":400,"rowPadding":0.5,"clipHeight":8,"padding":0,"labelExpr":"datum.label=='A' ? 'QSO-AS + HɪɪG + Mgɪɪ + Cɪᴠ + A118' : datum.label=='B' ? 'H(z) + BAO + SNP+' : 'H(z) + BAO + SNP+ + QSO-AS + HɪɪG + Mgɪɪ + Cɪᴠ + A118'"}}}}
]
}
